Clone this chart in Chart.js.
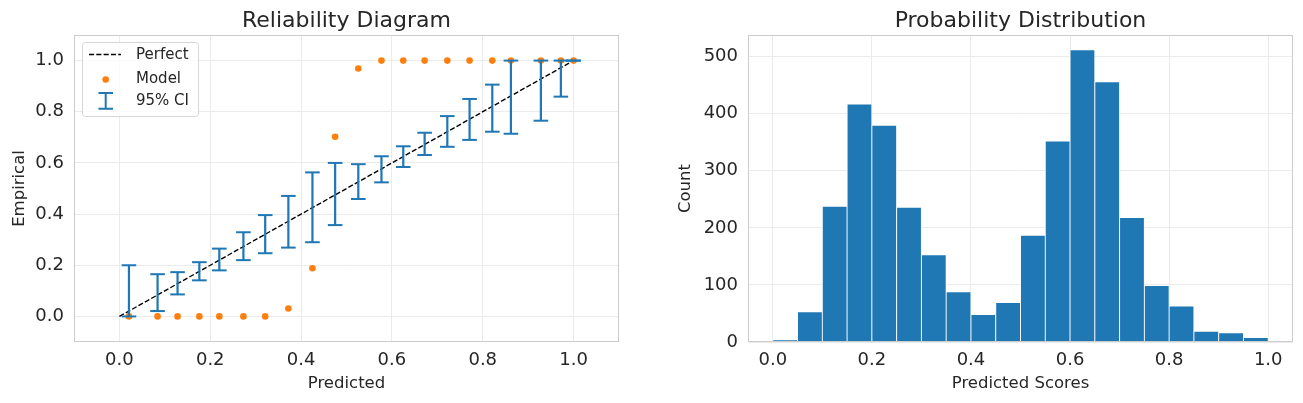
<!DOCTYPE html>
<html>
<head>
<meta charset="utf-8">
<script src="https://cdn.jsdelivr.net/npm/chart.js@4.4.0/dist/chart.umd.min.js"></script>
<style>
  html, body { margin: 0; padding: 0; background: #fff; }
  #left { position: absolute; left: 0; top: 0; }
  #right { position: absolute; left: 660px; top: 0; }
</style>
</head>
<body>
<canvas id="left" width="650" height="403"></canvas>
<canvas id="right" width="643" height="403"></canvas>
<script>
// reliability diagram data
var binX = [0.021, 0.084, 0.128, 0.176, 0.220, 0.273, 0.321, 0.372, 0.425, 0.475, 0.526,
            0.577, 0.625, 0.672, 0.722, 0.771, 0.821, 0.862, 0.928, 0.972, 1.0];
var modelY = [0, 0, 0, 0, 0, 0, 0, 0.031, 0.188, 0.702, 0.969,
              1, 1, 1, 1, 1, 1, 1, 1, 1, 1];
var ciLow = [0.0, 0.021, 0.086, 0.141, 0.180, 0.220, 0.247, 0.269, 0.290, 0.357, 0.459,
             0.524, 0.584, 0.631, 0.663, 0.690, 0.722, 0.714, 0.765, 0.859, 1.0];
var ciHigh = [0.200, 0.165, 0.173, 0.212, 0.265, 0.329, 0.396, 0.471, 0.563, 0.600, 0.595,
              0.626, 0.665, 0.718, 0.783, 0.850, 0.906, 1.0, 1.0, 1.0, 1.0];
var perfectX = [0, 1];
var probTicks = [0, 0.2, 0.4, 0.6, 0.8, 1.0];
var legendLabels = ['Perfect', 'Model', '95% CI'];

// histogram data
var histCenters = [0.025, 0.075, 0.125, 0.175, 0.225, 0.275, 0.325, 0.375, 0.425, 0.475,
                   0.525, 0.575, 0.625, 0.675, 0.725, 0.775, 0.825, 0.875, 0.925, 0.975];
var histCounts = [4, 53, 238, 417, 380, 236, 153, 88, 48, 69,
                  187, 352, 512, 456, 218, 99, 63, 19, 16, 8];
var countTicks = [0, 100, 200, 300, 400, 500];

var BLUE = '#1f77b4', ORANGE = '#ff7f0e', TEXT = '#262626';
var DASH = [5.1, 2.2];
Chart.defaults.font.family = 'DejaVu Sans';
Chart.defaults.color = TEXT;

var frame = {
  id: 'frame',
  afterDraw: function(chart) {
    var a = chart.chartArea, c = chart.ctx;
    c.save();
    c.strokeStyle = '#cccccc';
    c.lineWidth = 1;
    c.strokeRect(Math.round(a.left) + 0.5, Math.round(a.top) + 0.5,
                 Math.round(a.right - a.left) - 1, Math.round(a.bottom - a.top) - 1);
    c.restore();
  }
};

var legendBox = {
  id: 'legendBox',
  afterDraw: function(chart) {
    var a = chart.chartArea, c = chart.ctx;
    var L = a.left, T = a.top;
    c.save();
    c.fillStyle = 'rgba(255,255,255,0.8)';
    c.strokeStyle = '#d6d6d6';
    c.lineWidth = 1;
    c.beginPath();
    c.roundRect(L + 8.5, T + 7.5, 116, 74, 3);
    c.fill();
    c.stroke();
    // perfect
    c.strokeStyle = '#000';
    c.lineWidth = 1.4;
    c.setLineDash(DASH);
    c.beginPath();
    c.moveTo(L + 15, T + 19.5);
    c.lineTo(L + 47, T + 19.5);
    c.stroke();
    c.setLineDash([]);
    // model
    c.fillStyle = ORANGE;
    c.beginPath();
    c.arc(L + 31.7, T + 44.5, 3.3, 0, Math.PI * 2);
    c.fill();
    // ci
    c.strokeStyle = BLUE;
    c.lineWidth = 2;
    c.beginPath();
    c.moveTo(L + 31.7, T + 58);
    c.lineTo(L + 31.7, T + 73.7);
    c.moveTo(L + 24.5, T + 58);
    c.lineTo(L + 39, T + 58);
    c.moveTo(L + 24.5, T + 73.7);
    c.lineTo(L + 39, T + 73.7);
    c.stroke();
    c.fillStyle = TEXT;
    c.font = '15px "DejaVu Sans"';
    c.textBaseline = 'middle';
    var rows = [20.5, 44.5, 66.5];
    for (var i = 0; i < legendLabels.length; i++) {
      c.fillText(legendLabels[i], L + 62, T + rows[i]);
    }
    c.restore();
  }
};

function fixTicks(values) {
  return function(scale) {
    scale.ticks = values.map(function(v) { return { value: v }; });
  };
}

var ciLines = [], ciCaps = [];
for (var i = 0; i < binX.length; i++) {
  ciLines.push({ x: binX[i], y: ciLow[i] }, { x: binX[i], y: ciHigh[i] }, { x: binX[i], y: null });
  ciCaps.push({ x: binX[i], y: ciLow[i] }, { x: binX[i], y: ciHigh[i] });
}

new Chart(document.getElementById('left'), {
  type: 'scatter',
  data: {
    datasets: [
      {
        label: 'Perfect',
        data: perfectX.map(function(v) { return { x: v, y: v }; }),
        showLine: true,
        borderColor: '#000',
        borderWidth: 1.4,
        borderDash: DASH,
        pointRadius: 0,
        order: 4
      },
      {
        label: 'Model',
        data: binX.map(function(x, i) { return { x: x, y: modelY[i] }; }),
        pointRadius: 3.3,
        pointBackgroundColor: ORANGE,
        pointBorderWidth: 0,
        order: 3
      },
      {
        label: '95% CI',
        data: ciLines,
        showLine: true,
        spanGaps: false,
        borderColor: BLUE,
        borderWidth: 2.2,
        pointRadius: 0,
        order: 2
      },
      {
        label: 'caps',
        data: ciCaps,
        pointStyle: 'line',
        pointRadius: 7.3,
        pointBorderColor: BLUE,
        pointBorderWidth: 2,
        order: 1
      }
    ]
  },
  options: {
    responsive: false,
    animation: false,
    layout: { padding: { left: 0, right: 31, top: 0, bottom: 0 } },
    plugins: {
      legend: { display: false },
      tooltip: { enabled: false },
      title: {
        display: true,
        text: 'Reliability Diagram',
        fullSize: false,
        color: TEXT,
        font: { size: 22, weight: 'normal' },
        padding: { top: 7.6, bottom: 1 }
      }
    },
    scales: {
      x: {
        type: 'linear',
        min: -0.1,
        max: 1.1,
        afterBuildTicks: fixTicks(probTicks),
        afterFit: function(s) { s.height = 61; },
        grid: { color: '#ebebeb', drawTicks: false },
        border: { display: false },
        ticks: { padding: 8, font: { size: 18 }, callback: function(v) { return v.toFixed(1); } },
        title: { display: true, text: 'Predicted', font: { size: 16.5 }, padding: { top: 0, bottom: 9 } }
      },
      y: {
        type: 'linear',
        min: -0.1,
        max: 1.1,
        afterBuildTicks: fixTicks(probTicks),
        afterFit: function(s) { s.width = 74; },
        grid: { color: '#ebebeb', drawTicks: false },
        border: { display: false },
        ticks: { padding: 10, font: { size: 18 }, callback: function(v) { return v.toFixed(1); } },
        title: { display: true, text: 'Empirical', font: { size: 16.5 }, padding: { top: 9.5, bottom: 0 } }
      }
    }
  },
  plugins: [frame, legendBox]
});

new Chart(document.getElementById('right'), {
  type: 'bar',
  data: {
    datasets: [{
      label: 'Count',
      data: histCenters.map(function(x, i) { return { x: x, y: histCounts[i] }; }),
      backgroundColor: BLUE,
      borderColor: '#ffffff',
      borderWidth: 0.8,
      barPercentage: 1,
      categoryPercentage: 1
    }]
  },
  options: {
    responsive: false,
    animation: false,
    layout: { padding: { left: 0, right: 10, top: 0, bottom: 0 } },
    plugins: {
      legend: { display: false },
      tooltip: { enabled: false },
      title: {
        display: true,
        text: 'Probability Distribution',
        fullSize: false,
        color: TEXT,
        font: { size: 22, weight: 'normal' },
        padding: { top: 7.6, bottom: 1 }
      }
    },
    scales: {
      x: {
        type: 'linear',
        min: -0.05,
        max: 1.05,
        offset: false,
        afterBuildTicks: fixTicks(probTicks),
        afterFit: function(s) { s.height = 61; },
        grid: { color: '#ebebeb', drawTicks: false, offset: false },
        border: { display: false },
        ticks: { padding: 8, font: { size: 18 }, callback: function(v) { return v.toFixed(1); } },
        title: { display: true, text: 'Predicted Scores', font: { size: 16.5 }, padding: { top: 0, bottom: 9 } }
      },
      y: {
        type: 'linear',
        min: 0,
        max: 538,
        afterBuildTicks: fixTicks(countTicks),
        afterFit: function(s) { s.width = 88; },
        grid: { color: '#ebebeb', drawTicks: false },
        border: { display: false },
        ticks: { padding: 10, font: { size: 18 } },
        title: { display: true, text: 'Count', font: { size: 16.5 }, padding: { top: 16, bottom: 0 } }
      }
    }
  },
  plugins: [frame]
});
</script>
</body>
</html>
